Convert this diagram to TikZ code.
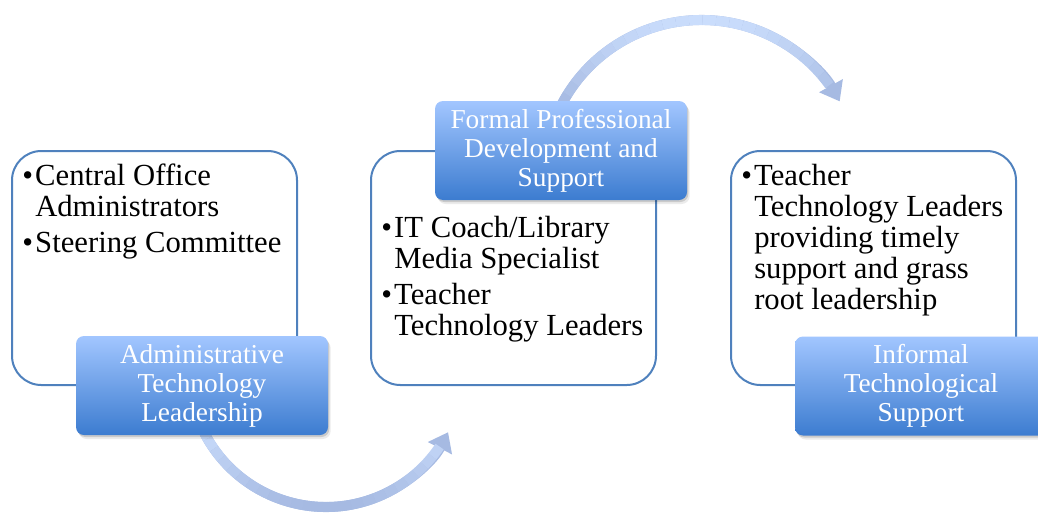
\documentclass[tikz,border=0pt]{standalone}
\usepackage{fontspec}
\setmainfont{Liberation Serif}
\usetikzlibrary{arrows.meta,shadows}
\definecolor{boxline}{RGB}{79,129,189}
\definecolor{btop}{RGB}{162,198,255}
\definecolor{bbot}{RGB}{60,124,208}
\definecolor{atop}{RGB}{202,221,252}
\definecolor{abot}{RGB}{166,186,226}
\newcommand\bul{\makebox[9.75pt][l]{\textbullet}}
\newcommand\ind{\hspace*{9.75pt}}
\tikzset{
  wbox/.style={draw=boxline,line width=1.5pt,fill=white,rounded corners=22pt,
    minimum width=213.75pt,minimum height=175.5pt,inner sep=0pt},
  bbox/.style={rounded corners=6pt,top color=btop,bottom color=bbot,draw=none,
    minimum width=189pt,minimum height=74.25pt,inner sep=0pt,text=white,align=center,
    font=\fontsize{20.5pt}{21.75pt}\selectfont,
    drop shadow={shadow xshift=2pt,shadow yshift=-3pt,opacity=0.08,fill=black},
    drop shadow={shadow xshift=1pt,shadow yshift=-1.5pt,opacity=0.14,fill=black}},
  wtext/.style={anchor=base west,inner sep=0pt,font=\fontsize{23pt}{23.25pt}\selectfont},
  cycarrow/.style={draw=abot,line width=7.5pt,-{Triangle[length=13.5pt,width=19.5pt]}},
  seg/.style={line width=7.5pt}
}
\begin{document}
\begin{tikzpicture}[x=0.75pt,y=-0.75pt]
\useasboundingbox (0,0) rectangle (1038,514);
\clip (0,0) rectangle (1038,514);
% white boxes
\node[wbox] (w1) at (154.5,268) {};
\node[wbox] (w2) at (513.5,268) {};
\node[wbox] (w3) at (873.5,268) {};
% arrows
\coordinate (c1) at (326,370);
\coordinate (c2) at (701.5,178);
\draw[cycarrow] ([shift={(155:137)}]c1) arc[start angle=155,end angle=27,radius=137];
\foreach \i in {0,...,23}{
  \pgfmathsetmacro\aa{155-(121)*\i/24}
  \pgfmathsetmacro\bb{155-(121)*(\i+1)/24}
  \pgfmathtruncatemacro\p{100-100*((370+137*sin((\aa+\bb)/2))-428)/79}
  \draw[seg,color=atop!\p!abot] ([shift={(\aa:137)}]c1) arc[start angle=\aa,end angle=\bb,radius=137];
}
\draw[cycarrow] ([shift={(-153:158)}]c2) arc[start angle=-153,end angle=-29,radius=158];
\foreach \i in {0,...,23}{
  \pgfmathsetmacro\aa{-153+(117)*\i/24}
  \pgfmathsetmacro\bb{-153+(117)*(\i+1)/24}
  \pgfmathtruncatemacro\p{100-100*((178+158*sin((\aa+\bb)/2))-20)/86}
  \draw[seg,color=atop!\p!abot] ([shift={(\aa:158)}]c2) arc[start angle=\aa,end angle=\bb,radius=158];
}
% blue boxes
\node[bbox] (b1) at (202,385.5) {Administrative\\Technology\\Leadership};
\node[bbox] (b2) at (561,150.5) {Formal Professional\\Development and\\Support};
\node[bbox] (b3) at (921,386) {Informal\\Technological\\Support};
% texts
\node[wtext] (t1) at (22,185) {\vtop{\baselineskip=23.25pt
  \hbox{\bul Central Office}\hbox{\ind Administrators}\vskip 3.75pt
  \hbox{\bul Steering Committee}}};
\node[wtext] (t2) at (381,237) {\vtop{\baselineskip=23.25pt
  \hbox{\bul IT Coach/Library}\hbox{\ind Media Specialist}\vskip 3.75pt
  \hbox{\bul Teacher}\hbox{\ind Technology Leaders}}};
\node[wtext] (t3) at (741,185) {\vtop{\baselineskip=23.25pt
  \hbox{\bul Teacher}\hbox{\ind Technology Leaders}\hbox{\ind providing timely}
  \hbox{\ind support and grass}\hbox{\ind root leadership}}};
\end{tikzpicture}
\end{document}
